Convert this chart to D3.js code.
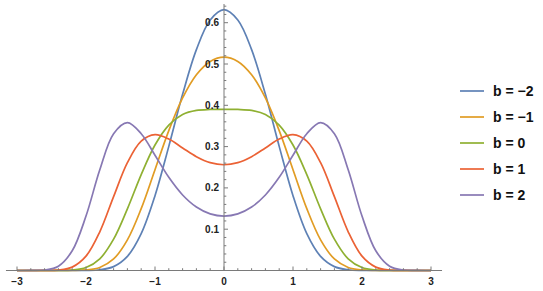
<!DOCTYPE html>
<html>
<head>
<meta charset="utf-8">
<script src="https://cdn.jsdelivr.net/npm/d3@7"></script>
<style>
html,body{margin:0;padding:0;background:#fff;}
svg{display:block;}
text{font-family:"Liberation Sans",Arial,sans-serif;font-weight:bold;}
</style>
</head>
<body>
<svg id="chart" width="543" height="291"></svg>
<script>
// x sample positions (non-negative half; curves are symmetric)
const xHalf = [0,0.2,0.4,0.6,0.8,1.0,1.2,1.4,1.6,1.8,2.0,2.2,2.4,2.6,2.8,3.0];
const seriesNames = ["b = \u22122","b = \u22121","b = 0","b = 1","b = 2"];
const valsBm2 = [0.6316,0.6066,0.5348,0.4266,0.3006,0.1810,0.0891,0.0341,0.0094,0.0018,0.0002,0,0,0,0,0];
const valsBm1 = [0.5167,0.5063,0.4740,0.4178,0.3387,0.2441,0.1498,0.0742,0.0279,0.0074,0.0013,0.0001,0,0,0,0];
const valsB0  = [0.3901,0.3899,0.3876,0.3776,0.3521,0.3038,0.2323,0.1493,0.0758,0.0283,0.0071,0.0011,0.0001,0,0,0];
const valsB1  = [0.2561,0.2611,0.2756,0.2968,0.3183,0.3288,0.3133,0.2611,0.1789,0.0938,0.0347,0.0082,0.0011,0.0001,0,0];
const valsB2  = [0.1318,0.1371,0.1537,0.1829,0.2256,0.2790,0.3312,0.3581,0.3312,0.2439,0.1318,0.0477,0.0105,0.0012,0.0001,0];
const xTickLabels = ["\u22123","\u22122","\u22121","0","1","2","3"];
const xTickValues = [-3,-2,-1,0,1,2,3];
const yTickValues = [0.1,0.2,0.3,0.4,0.5,0.6];
const yTickLabels = ["0.1","0.2","0.3","0.4","0.5","0.6"];
const colors = ["#5E81B5","#E19C24","#8FB032","#EB6235","#8778B3"];

const allVals = [valsBm2,valsBm1,valsB0,valsB1,valsB2];
function fullSeries(v){
  const pts = [];
  for(let i=xHalf.length-1;i>0;i--) pts.push([-xHalf[i], v[i]]);
  for(let i=0;i<xHalf.length;i++) pts.push([xHalf[i], v[i]]);
  return pts;
}

const svg = d3.select("#chart");
const x = d3.scaleLinear().domain([-3,3]).range([17,431]);
const y = d3.scaleLinear().domain([0,0.6]).range([270.5,22.7]);
const axisColor = "#7a7a7a";

// curves
const line = d3.line().x(d=>x(d[0])).y(d=>y(d[1])).curve(d3.curveCatmullRom.alpha(0.5));
allVals.forEach((v,i)=>{
  svg.append("path").datum(fullSeries(v))
    .attr("fill","none").attr("stroke",colors[i]).attr("stroke-width",1.7)
    .attr("stroke-linejoin","round").attr("d",line);
});

// x axis
const gx = svg.append("g");
gx.append("line").attr("x1",x(-3.16)).attr("x2",x(3.16)).attr("y1",y(0)).attr("y2",y(0))
  .attr("stroke",axisColor).attr("stroke-width",1);
const xMinor = d3.range(-15,16).map(k=>k*0.2);
xMinor.forEach(v=>{
  const major = Math.abs(v-Math.round(v))<1e-9;
  gx.append("line").attr("x1",x(v)).attr("x2",x(v)).attr("y1",y(0)).attr("y2",y(0)-(major?4:2.3))
    .attr("stroke",axisColor).attr("stroke-width",1);
});
xTickValues.forEach((v,i)=>{
  gx.append("text").attr("x",x(v)).attr("y",285).attr("text-anchor","middle")
    .attr("font-size",10).attr("fill","#222").text(xTickLabels[i]);
});

// y axis
const gy = svg.append("g");
gy.append("line").attr("x1",x(0)).attr("x2",x(0)).attr("y1",y(0)).attr("y2",4)
  .attr("stroke",axisColor).attr("stroke-width",1);
const yMinor = d3.range(1,33).map(k=>k*0.02);
yMinor.forEach(v=>{
  const major = Math.abs(v*10-Math.round(v*10))<1e-9;
  gy.append("line").attr("x1",x(0)).attr("x2",x(0)+(major?4:2.3)).attr("y1",y(v)).attr("y2",y(v))
    .attr("stroke",axisColor).attr("stroke-width",1);
});
yTickValues.forEach((v,i)=>{
  gy.append("text").attr("x",x(0)-5).attr("y",y(v)+3.5).attr("text-anchor","end")
    .attr("font-size",10).attr("fill","#222").text(yTickLabels[i]);
});

// legend
const lg = svg.append("g");
seriesNames.forEach((n,i)=>{
  const ly = 91 + i*26;
  lg.append("line").attr("x1",460).attr("x2",484).attr("y1",ly).attr("y2",ly)
    .attr("stroke",colors[i]).attr("stroke-width",1.7);
  lg.append("text").attr("x",493).attr("y",ly+5).attr("font-size",14).attr("fill","#111").text(n);
});
</script>
</body>
</html>
